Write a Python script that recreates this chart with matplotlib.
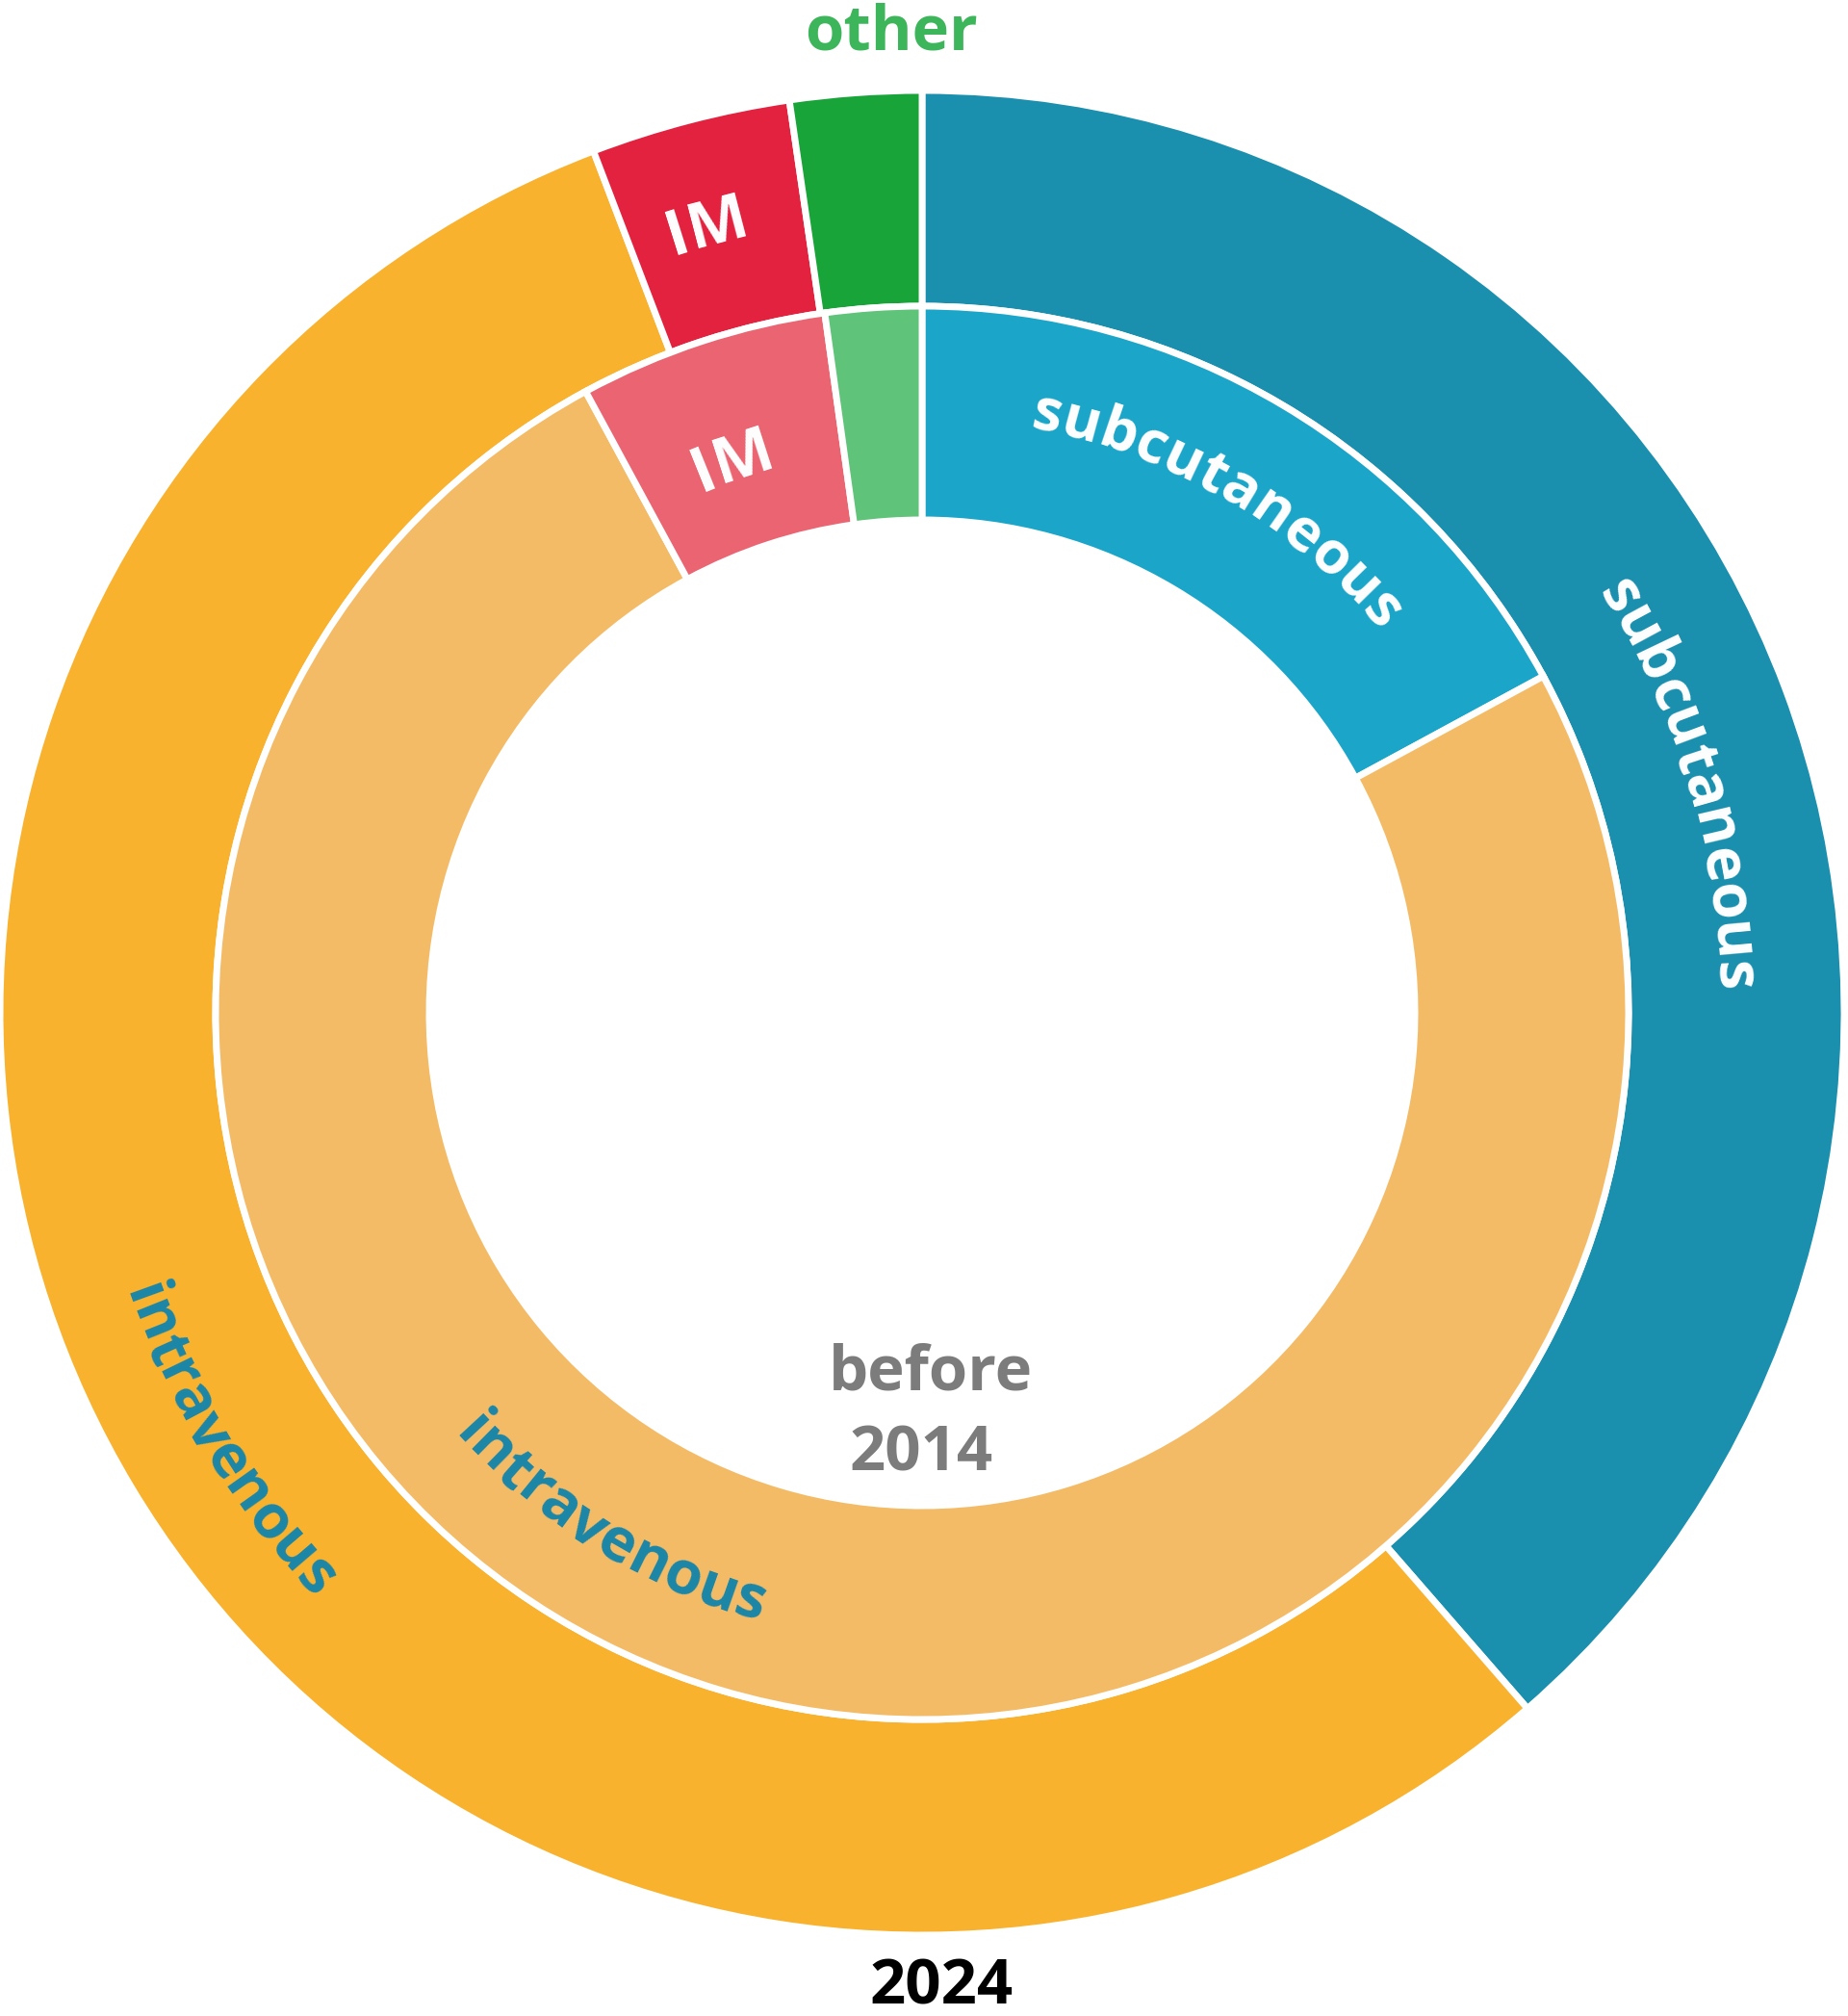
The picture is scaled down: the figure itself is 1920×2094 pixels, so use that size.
import numpy as np
import matplotlib
matplotlib.use('Agg')
import matplotlib.pyplot as plt
from matplotlib.font_manager import FontProperties, findfont, get_font
try:
    from matplotlib.ft2font import LoadFlags
    NOHINT = LoadFlags.NO_HINTING
except ImportError:
    from matplotlib.ft2font import LOAD_NO_HINTING as NOHINT

FONT = 'Open Sans'

# share of each route (percent), clockwise from 12 o'clock
routes       = ['subcutaneous', 'intravenous', 'IM', 'other']
share_2024   = [38.6, 55.6, 3.5, 2.3]
share_before = [17.1, 75.0, 5.7, 2.2]

colors_2024   = ['#1a8fae', '#f8b22e', '#e3223f', '#19a43a']
colors_before = ['#1ba6c9', '#f4bb66', '#eb6472', '#5fc47a']

W, H = 1920, 2094
fig = plt.figure(figsize=(W / 100, H / 100), dpi=100)
ax = fig.add_axes([0, 0, 1, 1])

cx, cy = 958, H - 1052
R_out, R_mid, R_in = 958, 734, 512
lw = 5

ax.pie(share_2024, radius=R_out, center=(cx, cy), startangle=90, counterclock=False,
       colors=colors_2024, wedgeprops=dict(width=R_out - R_mid, edgecolor='white', linewidth=lw))
ax.pie(share_before, radius=R_mid, center=(cx, cy), startangle=90, counterclock=False,
       colors=colors_before, wedgeprops=dict(width=R_mid - R_in, edgecolor='white', linewidth=lw))
ax.set_xlim(0, W)
ax.set_ylim(0, H)
ax.set_aspect('equal')
ax.axis('off')

PX = 100 / 72.0


def advances(s, size):
    fp = FontProperties(family=FONT, weight='bold', size=size)
    font = get_font(findfont(fp))
    font.set_size(size, 72)
    out = []
    for c in s:
        g = font.load_char(ord(c), flags=NOHINT)
        out.append(g.linearHoriAdvance / 65536 * PX)
    return out


def arc_text(s, theta_c, r_c, size, color, outward=True, hfrac=0.535):
    # theta clockwise from top, degrees; r_c = radius of the visual middle of the letters
    adv = advances(s, size)
    h = hfrac * size * PX
    r_base = r_c - h / 2 if outward else r_c + h / 2
    pos = -sum(adv) / 2
    for c, a in zip(s, adv):
        d = np.degrees((pos + a / 2) / r_base)
        th = theta_c + d if outward else theta_c - d
        x = cx + r_base * np.sin(np.radians(th))
        y = cy + r_base * np.cos(np.radians(th))
        rot = -th if outward else 180 - th
        ax.text(x, y, c, rotation=rot, rotation_mode='anchor', ha='center', va='baseline',
                fontsize=size, fontweight='bold', family=FONT, color=color)
        pos += a


LS = 45
arc_text('subcutaneous', 30.3, 634, 44, 'white')
arc_text('subcutaneous', 73.3, 843, 45, 'white')
arc_text('intravenous', 238.4, 861, LS, '#1b86a8', outward=False)
arc_text('intravenous', 211.5, 638, LS, '#1b86a8', outward=False)
arc_text('IM', 344.7, 852, 48, 'white', hfrac=0.714)
arc_text('IM', 341.1, 612, 48, 'white', hfrac=0.714)

TS = 47
ax.text(926, H - 51, 'other', ha='center', va='baseline', fontsize=TS, fontweight='bold',
        family=FONT, color='#3db55a')
ax.text(967, H - 1443, 'before', ha='center', va='baseline', fontsize=TS, fontweight='bold',
        family=FONT, color='#7c7c7c')
ax.text(957, H - 1527, '2014', ha='center', va='baseline', fontsize=TS, fontweight='bold',
        family=FONT, color='#7c7c7c')
ax.text(978, H - 2082, '2024', ha='center', va='baseline', fontsize=TS, fontweight='bold',
        family=FONT, color='black')

fig.savefig('out.png', dpi=100)
